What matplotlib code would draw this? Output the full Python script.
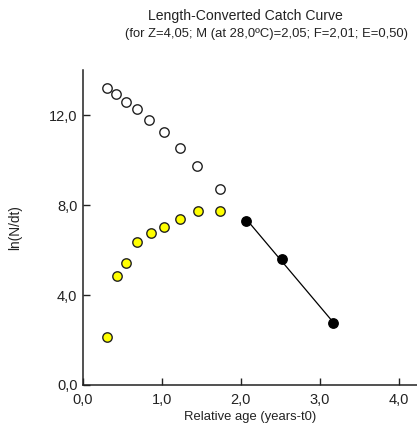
import numpy as np
import matplotlib
matplotlib.use("Agg")
from matplotlib import pyplot as plt
from matplotlib.ticker import FuncFormatter

# points not used in the regression (upper open circles and yellow ln(N/dt) points)
age_open = [0.30, 0.42, 0.55, 0.69, 0.84, 1.02, 1.23, 1.45, 1.73]
lnn_open = [13.19, 12.92, 12.59, 12.25, 11.78, 11.23, 10.55, 9.72, 8.71]

age_yellow = [0.30, 0.43, 0.54, 0.69, 0.86, 1.03, 1.23, 1.46, 1.73]
lnn_yellow = [2.12, 4.86, 5.41, 6.36, 6.77, 7.04, 7.38, 7.72, 7.75]

# points used for the regression
age_fit = [2.07, 2.52, 3.17]
lnn_fit = [7.30, 5.60, 2.74]

x_ticks = [0.0, 1.0, 2.0, 3.0, 4.0]
y_ticks = [0.0, 4.0, 8.0, 12.0]

plt.rcParams["font.family"] = ["Liberation Sans", "DejaVu Sans"]

fig = plt.figure(figsize=(4.17, 4.41), dpi=100)
ax = fig.add_axes([0.199, 0.127, 0.801, 0.714])

ax.scatter(age_open, lnn_open, s=46, facecolor="white", edgecolor="#222222", linewidth=1.0, zorder=3)
ax.scatter(age_yellow, lnn_yellow, s=46, facecolor="#ffff00", edgecolor="#222222", linewidth=1.0, zorder=3)
ax.scatter(age_fit, lnn_fit, s=46, facecolor="black", edgecolor="black", linewidth=1.0, zorder=4)

slope, intercept = np.polyfit(age_fit, lnn_fit, 1)
xs = np.array([min(age_fit), max(age_fit)])
ax.plot(xs, slope * xs + intercept, color="black", linewidth=0.9, zorder=2)

ax.set_xlim(0, 4.23)
ax.set_ylim(0, 14)
ax.set_xticks(x_ticks)
ax.set_yticks(y_ticks)
comma = FuncFormatter(lambda v, p: f"{v:.1f}".replace(".", ","))
ax.xaxis.set_major_formatter(comma)
ax.yaxis.set_major_formatter(comma)
ax.tick_params(direction="in", length=5, width=1, labelsize=10.5, colors="#222222")
ax.tick_params(axis="x", pad=6)
ax.tick_params(axis="y", pad=4)

for side in ["top", "right"]:
    ax.spines[side].set_visible(False)
for side in ["left", "bottom"]:
    ax.spines[side].set_linewidth(1.1)
    ax.spines[side].set_color("#222222")

ax.set_xlabel("Relative age (years-t0)", fontsize=9.4, color="#222222", labelpad=3)
ax.set_ylabel("ln(N/dt)", fontsize=9.8, color="#222222", labelpad=19)

fig.text(0.588, 0.963, "Length-Converted Catch Curve", ha="center", va="center", fontsize=10.1, color="#222222")
fig.text(0.64, 0.923, "(for Z=4,05; M (at 28,0ºC)=2,05; F=2,01; E=0,50)", ha="center", va="center",
         fontsize=9.4, color="#222222")

fig.savefig("out.png", dpi=100)
